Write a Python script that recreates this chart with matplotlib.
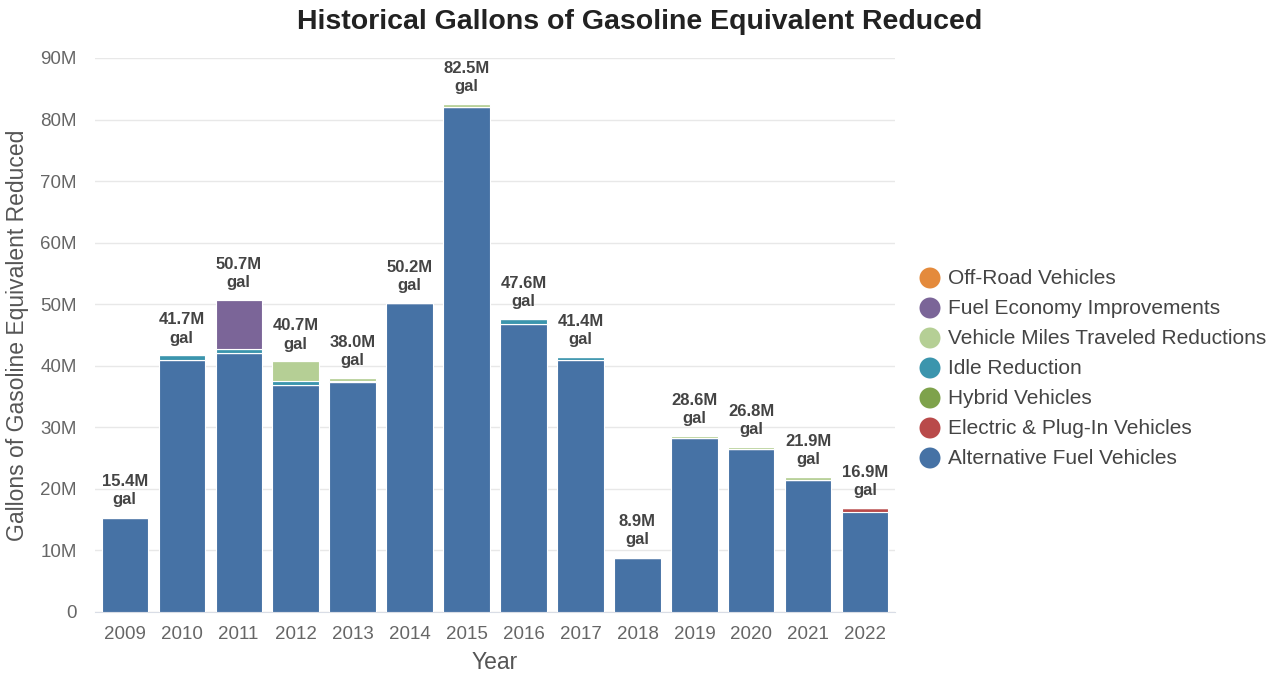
import matplotlib
matplotlib.use("Agg")
import matplotlib.pyplot as plt
import numpy as np

years = ["2009", "2010", "2011", "2012", "2013", "2014", "2015",
         "2016", "2017", "2018", "2019", "2020", "2021", "2022"]

# values in millions of gallons
alt_fuel = [15.2, 41.0, 42.0, 36.8, 37.4, 50.2, 82.1, 46.8, 40.9, 8.7, 28.3, 26.5, 21.5, 16.3]
electric = [0.0, 0.0, 0.0, 0.0, 0.0, 0.0, 0.0, 0.0, 0.0, 0.0, 0.0, 0.0, 0.0, 0.6]
hybrid = [0.0, 0.0, 0.0, 0.0, 0.0, 0.0, 0.0, 0.0, 0.0, 0.0, 0.0, 0.0, 0.0, 0.0]
idle = [0.2, 0.7, 0.7, 0.7, 0.1, 0.0, 0.0, 0.8, 0.5, 0.0, 0.0, 0.0, 0.0, 0.0]
vmt = [0.0, 0.0, 0.0, 3.2, 0.5, 0.0, 0.4, 0.0, 0.0, 0.2, 0.3, 0.3, 0.4, 0.0]
fuel_econ = [0.0, 0.0, 8.0, 0.0, 0.0, 0.0, 0.0, 0.0, 0.0, 0.0, 0.0, 0.0, 0.0, 0.0]
off_road = [0.0, 0.0, 0.0, 0.0, 0.0, 0.0, 0.0, 0.0, 0.0, 0.0, 0.0, 0.0, 0.0, 0.0]
totals = [15.4, 41.7, 50.7, 40.7, 38.0, 50.2, 82.5, 47.6, 41.4, 8.9, 28.6, 26.8, 21.9, 16.9]

series = [
    ("Alternative Fuel Vehicles", alt_fuel, "#4672a5"),
    ("Electric & Plug-In Vehicles", electric, "#b94a4a"),
    ("Hybrid Vehicles", hybrid, "#7ea24b"),
    ("Idle Reduction", idle, "#3b95ad"),
    ("Vehicle Miles Traveled Reductions", vmt, "#b5cf95"),
    ("Fuel Economy Improvements", fuel_econ, "#7b6598"),
    ("Off-Road Vehicles", off_road, "#e48a3c"),
]

plt.rcParams['font.family'] = ['Liberation Sans', 'DejaVu Sans']

fig = plt.figure(figsize=(12.79, 6.77), dpi=100)
ax = fig.add_axes([95/1279, 1-612/677, 800/1279, 554/677])

x = np.arange(len(years))
bottom = np.zeros(len(years))
handles = []
for name, vals, col in series:
    v = np.array(vals) * 1e6
    ax.bar(x, v, bottom=bottom, width=0.81, color=col, edgecolor="white", linewidth=0.8, zorder=3)
    bottom += v
    handles.append((name, col))

for xi, t in zip(x, totals):
    ax.annotate(f"{t:.1f}M\ngal", (xi, t * 1e6), xytext=(0, 7), textcoords="offset points",
                ha="center", va="bottom", fontsize=12, fontweight="bold", color="#444444",
                linespacing=1.3)

ax.set_xlim(-0.52, 13.52)
ax.set_ylim(0, 90e6)
yt = np.arange(0, 91e6, 10e6)
ax.set_yticks(yt)
ax.set_yticklabels(["0"] + [f"{int(v/1e6)}M" for v in yt[1:]])
ax.set_xticks(x)
ax.set_xticklabels(years)
ax.tick_params(axis="both", length=0, labelsize=13.5, labelcolor="#666666")
ax.tick_params(axis="y", pad=13)
ax.tick_params(axis="x", pad=10)
ax.grid(axis="y", color="#e8e8e8", linewidth=1, zorder=0)
for s in ["top", "right", "left"]:
    ax.spines[s].set_visible(False)
ax.spines["bottom"].set_color("#d9dde6")
ax.set_xlabel("Year", fontsize=16.5, color="#555555", labelpad=6)
ax.set_ylabel("Gallons of Gasoline Equivalent Reduced", fontsize=16.5, color="#555555", labelpad=8)

fig.text(640/1279, 1-22/677, "Historical Gallons of Gasoline Equivalent Reduced",
         ha="center", va="center", fontsize=20.5, fontweight="bold", color="#222222")

# legend (order as in reference)
leg_order = ["Off-Road Vehicles", "Fuel Economy Improvements", "Vehicle Miles Traveled Reductions",
             "Idle Reduction", "Hybrid Vehicles", "Electric & Plug-In Vehicles", "Alternative Fuel Vehicles"]
colmap = dict(handles)
for i, name in enumerate(leg_order):
    yy = 1 - (278 + 30 * i) / 677
    fig.patches.append(matplotlib.patches.Ellipse((930/1279, yy), 21/1279, 21/677,
                       transform=fig.transFigure, facecolor=colmap[name], edgecolor="none"))
    fig.text(948/1279, yy, name, ha="left", va="center", fontsize=15, color="#444444")

fig.savefig("out.png", dpi=100, facecolor="white")
